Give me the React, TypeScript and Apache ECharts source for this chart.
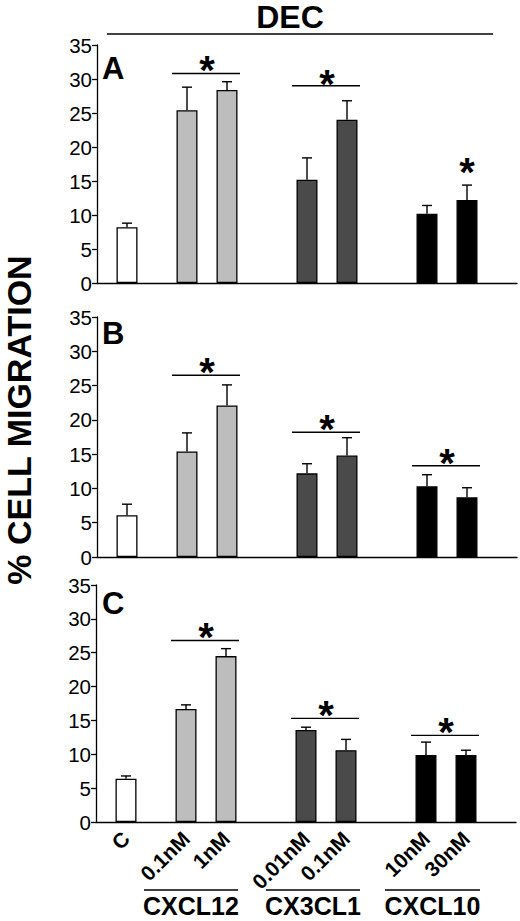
import React, { useEffect, useRef } from 'react';
import * as echarts from 'echarts';

// doses along the x axis (C = control)
const doses = ['C', '0.1nM', '1nM', '0.01nM', '0.1nM', '10nM', '30nM'];
const chemokines = ['CXCL12', 'CX3CL1', 'CXCL10'];
const panelNames = ['A', 'B', 'C'];

// % cell migration, mean and error
const panelAValues = [8.2, 25.4, 28.4, 15.2, 24.0, 10.2, 12.2];
const panelAErrors = [0.6, 3.4, 1.2, 3.2, 2.8, 1.2, 2.2];
const panelBValues = [6.1, 15.4, 22.1, 12.2, 14.8, 10.3, 8.7];
const panelBErrors = [1.6, 2.7, 3.0, 1.4, 2.6, 1.7, 1.4];
const panelCValues = [6.4, 16.7, 24.5, 13.6, 10.6, 9.9, 9.9];
const panelCErrors = [0.4, 0.6, 1.1, 0.4, 1.6, 1.9, 0.7];

// significance marks: dose index range, bar height and star height (in %)
type Sig = { from: number; to: number; line: number | null; star: number };
const panelASig: Sig[] = [
  { from: 1, to: 2, line: 30.8, star: 32.8 },
  { from: 3, to: 4, line: 29.0, star: 30.8 },
  { from: 6, to: 6, line: null, star: 17.8 }
];
const panelBSig: Sig[] = [
  { from: 1, to: 2, line: 26.5, star: 28.4 },
  { from: 3, to: 4, line: 18.2, star: 20.1 },
  { from: 5, to: 6, line: 13.3, star: 15.1 }
];
const panelCSig: Sig[] = [
  { from: 1, to: 2, line: 26.8, star: 28.8 },
  { from: 3, to: 4, line: 15.3, star: 17.3 },
  { from: 5, to: 6, line: 12.8, star: 14.8 }
];

// layout of the category axis: spacer slots between groups
const slotCount = 21;
const doseSlots = [1, 4, 6, 10, 12, 16, 18];
const doseColors = ['#ffffff', '#bdbdbd', '#bdbdbd', '#4a4a4a', '#4a4a4a', '#000000', '#000000'];

const FONT = '"Liberation Sans", Arial, Helvetica, sans-serif';

const categories = Array.from({ length: slotCount }, (_, i) => {
  const d = doseSlots.indexOf(i);
  return d >= 0 ? doses[d] : '';
});

const grids = [
  { left: 97, top: 45, width: 420, height: 238 },
  { left: 97, top: 317, width: 420, height: 240 },
  { left: 96, top: 585, width: 420, height: 237 }
];

const App: React.FC = () => {
  const chartRef = useRef<HTMLDivElement>(null);

  useEffect(() => {
    if (!chartRef.current) return;
    const chart = echarts.init(chartRef.current, null, { renderer: 'svg' });

    const panels = [
      { values: panelAValues, errors: panelAErrors, sig: panelASig },
      { values: panelBValues, errors: panelBErrors, sig: panelBSig },
      { values: panelCValues, errors: panelCErrors, sig: panelCSig }
    ];

    const series: any[] = [];
    panels.forEach((p, gi) => {
      const barData: any[] = new Array(slotCount).fill(null);
      p.values.forEach((v, i) => {
        barData[doseSlots[i]] = { value: v, itemStyle: { color: doseColors[i] } };
      });
      series.push({
        type: 'bar',
        xAxisIndex: gi,
        yAxisIndex: gi,
        data: barData,
        barWidth: 21,
        itemStyle: { borderColor: '#000', borderWidth: 1.3 },
        z: 3
      });

      // error bars (upper only)
      series.push({
        type: 'custom',
        xAxisIndex: gi,
        yAxisIndex: gi,
        data: p.values.map((v, i) => [doseSlots[i], v, v + p.errors[i]]),
        renderItem: (_params: any, api: any) => {
          const base = api.coord([api.value(0), api.value(1)]);
          const top = api.coord([api.value(0), api.value(2)]);
          const ls = { stroke: '#000', lineWidth: 1.4 };
          return {
            type: 'group',
            children: [
              { type: 'line', shape: { x1: base[0], y1: base[1], x2: top[0], y2: top[1] }, style: ls },
              { type: 'line', shape: { x1: top[0] - 5, y1: top[1], x2: top[0] + 5, y2: top[1] }, style: ls }
            ]
          };
        },
        z: 2
      });

      // significance lines and stars
      series.push({
        type: 'custom',
        xAxisIndex: gi,
        yAxisIndex: gi,
        data: p.sig.map(s => [doseSlots[s.from], s.line ?? 0, doseSlots[s.to], s.star, s.line == null ? 0 : 1]),
        renderItem: (_params: any, api: any) => {
          const a = api.coord([api.value(0), api.value(1)]);
          const b = api.coord([api.value(2), api.value(1)]);
          const st = api.coord([api.value(0), api.value(3)]);
          const children: any[] = [];
          if (api.value(4)) {
            children.push({
              type: 'line',
              shape: { x1: a[0] - 15, y1: a[1], x2: b[0] + 13, y2: b[1] },
              style: { stroke: '#000', lineWidth: 1.4 }
            });
          }
          children.push({
            type: 'text',
            x: (a[0] + b[0]) / 2,
            y: st[1] + 10,
            style: {
              text: '*',
              font: `bold 40px ${FONT}`,
              fill: '#000',
              align: 'center',
              verticalAlign: 'middle'
            }
          });
          return { type: 'group', children };
        },
        z: 4
      });
    });

    const graphic: any[] = [
      {
        type: 'text',
        x: 290,
        y: 17,
        style: { text: 'DEC', font: `bold 32px ${FONT}`, fill: '#000', align: 'center', verticalAlign: 'middle' }
      },
      { type: 'line', shape: { x1: 107, y1: 34, x2: 493, y2: 34 }, style: { stroke: '#000', lineWidth: 1.3 } },
      {
        type: 'text',
        x: 19,
        y: 420,
        rotation: Math.PI / 2,
        style: {
          text: '% CELL MIGRATION',
          font: `bold 34px ${FONT}`,
          fill: '#000',
          align: 'center',
          verticalAlign: 'middle'
        }
      }
    ];
    const letterY = [68, 333, 603];
    panelNames.forEach((n, i) => {
      graphic.push({
        type: 'text',
        x: 102,
        y: letterY[i],
        style: { text: n, font: `bold 31px ${FONT}`, fill: '#000', align: 'left', verticalAlign: 'middle' }
      });
    });
    const groupLines = [
      [144, 238],
      [266, 360],
      [385, 480]
    ];
    chemokines.forEach((c, i) => {
      const [x1, x2] = groupLines[i];
      graphic.push({ type: 'line', shape: { x1, y1: 890, x2, y2: 890 }, style: { stroke: '#000', lineWidth: 1.3 } });
      graphic.push({
        type: 'text',
        x: (x1 + x2) / 2,
        y: 906,
        style: { text: c, font: `bold 25px ${FONT}`, fill: '#000', align: 'center', verticalAlign: 'middle' }
      });
    });

    const option: echarts.EChartsOption = {
      animation: false,
      backgroundColor: '#ffffff',
      grid: grids.map(g => ({ ...g, containLabel: false })),
      xAxis: grids.map((_, gi) => ({
        type: 'category',
        gridIndex: gi,
        data: categories,
        axisLine: { show: true, onZero: false, lineStyle: { color: '#000', width: 1.3 } },
        axisTick: { show: false },
        axisLabel: {
          show: gi === 2,
          interval: 0,
          rotate: 45,
          margin: 13,
          color: '#000',
          fontSize: 21,
          fontWeight: 'bold',
          fontFamily: FONT
        },
        splitLine: { show: false }
      })),
      yAxis: grids.map((_, gi) => ({
        type: 'value',
        gridIndex: gi,
        min: 0,
        max: 35,
        interval: 5,
        axisLine: { show: true, lineStyle: { color: '#000', width: 1.3 } },
        axisTick: { show: true, length: 5, lineStyle: { color: '#000', width: 1.3 } },
        axisLabel: { color: '#000', fontSize: 20.5, fontFamily: FONT, margin: 5 },
        splitLine: { show: false }
      })),
      series,
      graphic
    };

    chart.setOption(option);

    return () => {
      chart.dispose();
    };
  }, []);

  return (
    <div
      ref={chartRef}
      style={{ position: 'fixed', left: 0, top: 0, width: '520px', height: '921px', background: '#fff' }}
    />
  );
};

export default App;
